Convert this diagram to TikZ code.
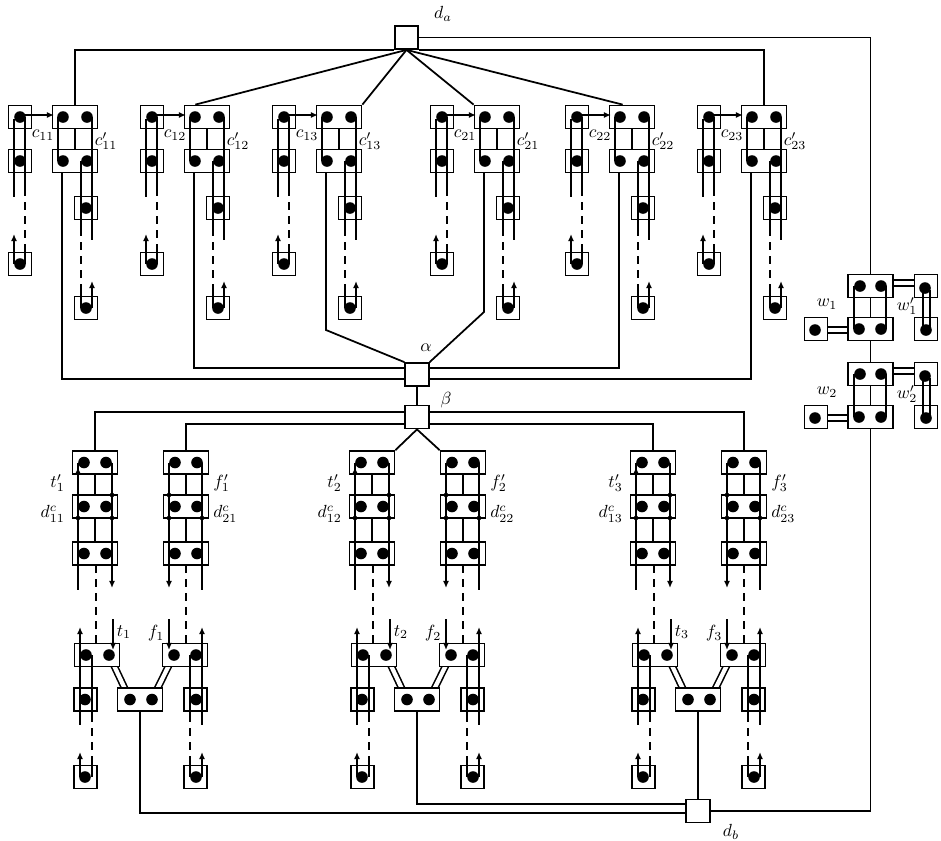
\documentclass[tikz,border=0pt]{standalone}
\usetikzlibrary{arrows.meta,calc}
\tikzset{
  wire/.style={line width=1pt},
  dashwire/.style={line width=1pt, dash pattern=on 4.5pt off 3.5pt},
  cell/.style={draw, line width=1pt, fill=white, inner sep=0pt, minimum height=0.46cm},
  sbox/.style={cell, minimum width=0.46cm},
  dbox/.style={cell, minimum width=0.9cm},
  hub/.style={draw, line width=1pt, fill=white, inner sep=0pt, minimum width=0.47cm, minimum height=0.46cm},
  upar/.style={wire, -{Latex[length=4pt,width=3.4pt]}},
  chan/.style={line width=0.9pt, double, double distance=2.4pt},
  lbl/.style={inner sep=0pt},
}
% filled terminal and small junction point
\newcommand\blob[2]{\fill (#1,#2) circle (3.3pt);}
\newcommand\knot[2]{\fill (#1,#2) circle (1.3pt);}

% clause gadget: name, left x, labels
\newcommand\cgad[4]{%
  \begin{scope}[shift={(#2,0)}]
    \node[sbox] (#1a) at (12,117) {};
    \node[dbox] (#1b) at (67,117) {};
    \node[sbox] (#1c) at (12,161) {};
    \node[dbox] (#1d) at (67,161) {};
    \node[sbox] (#1e) at (78,208) {};
    \node[sbox] (#1f) at (12,264) {};
    \node[sbox] (#1g) at (78,308) {};
    \coordinate (#1L) at (54,172.5);
    \draw[upar] (12,115) -- (46,115);
    \draw[wire] (6,119) -- (6,197);
    \draw[upar] (6,264) -- (6,234);
    \draw[wire] (17,117) -- (17,188);
    \draw[dashwire] (17,188) -- (17,246);
    \draw[wire] (17,246) -- (17,264);
    \draw[wire] (50,117) -- (50,161);
    \draw[wire] (67,128.5) -- (67,149.5);
    \draw[wire] (84,117) -- (84,240);
    \draw[wire] (73,161) -- (73,228);
    \draw[dashwire] (73,228) -- (73,290);
    \draw[wire] (73,290) -- (73,308);
    \draw[upar] (84,308) -- (84,281);
    \blob{12}{117}\blob{55}{117}\blob{79}{117}
    \blob{12}{161}\blob{55}{161}\blob{79}{161}
    \blob{78}{208}\blob{12}{264}\blob{78}{308}
    \node[lbl] at (35,135) {$#3$};
    \node[lbl] at (98,141) {$#4$};
  \end{scope}}

% variable gadget: name, left x, index
\newcommand\vgad[3]{%
  \begin{scope}[shift={(#2,0)}]
    \draw[chan] (37,655) -- (58,699.5);
    \draw[chan] (102,655) -- (80,699.5);
    \foreach \rw/\yy in {1/462.5,2/506.5,3/553.5}{
      \node[dbox] (#1t\rw) at (23,\yy) {};
      \node[dbox] (#1f\rw) at (114,\yy) {};
    }
    \node[dbox] (#1lt) at (25,655) {};
    \node[dbox] (#1lf) at (113,655) {};
    \node[dbox] (#1cc) at (68,699.5) {};
    \node[sbox] (#1sl) at (13.5,699.5) {};
    \node[sbox] (#1sr) at (123.5,699.5) {};
    \node[sbox] (#1bl) at (13.5,777) {};
    \node[sbox] (#1br) at (123.5,777) {};
    % true side
    \draw[wire] (6,462.5) -- (6,590);
    \draw[upar] (6,495) -- (6,467);
    \draw[wire] (23,474) -- (23,495);
    \draw[wire] (23,518) -- (23,542);
    \draw[wire] (40,462.5) -- (40,565);
    \draw[upar] (40,565) -- (40,588);
    \draw[dashwire] (24,565) -- (24,643.5);
    \draw[upar] (8,655) -- (8,627);
    \draw[upar] (41,619) -- (41,650);
    \draw[wire] (8,655) -- (8,725);
    \draw[wire] (20,655) -- (20,714);
    \draw[dashwire] (20,714) -- (20,760);
    \draw[wire] (20,760) -- (20,777);
    \draw[upar] (8,777) -- (8,752);
    % false side
    \draw[wire] (97,462.5) -- (97,565);
    \draw[upar] (97,565) -- (97,588);
    \draw[wire] (114,474) -- (114,495);
    \draw[wire] (114,518) -- (114,542);
    \draw[wire] (130,462.5) -- (130,590);
    \draw[dashwire] (114,565) -- (114,643.5);
    \draw[upar] (97,619) -- (97,650);
    \draw[upar] (130,655) -- (130,627);
    \draw[wire] (118,655) -- (118,714);
    \draw[dashwire] (118,714) -- (118,760);
    \draw[wire] (118,760) -- (118,777);
    \draw[wire] (130,655) -- (130,725);
    \draw[upar] (130,777) -- (130,752);
    \foreach \yy in {462.5,506.5,553.5}{\blob{12}{\yy}\blob{34}{\yy}\blob{103}{\yy}\blob{125}{\yy}}
    \blob{14}{655}\blob{37}{655}\blob{102}{655}\blob{124}{655}
    \blob{58}{699.5}\blob{80}{699.5}\blob{13}{699.5}\blob{124}{699.5}
    \blob{13}{777}\blob{124}{777}
    \knot{40}{495}\knot{6}{518}\knot{40}{518}\knot{97}{495}\knot{97}{518}\knot{130}{518}
    \node[lbl, anchor=east] at (-7,483) {$t'_{#3}$};
    \node[lbl, anchor=east] at (-7,514) {$d^c_{1#3}$};
    \node[lbl, anchor=west] at (141,483) {$f'_{#3}$};
    \node[lbl, anchor=west] at (141,514) {$d^c_{2#3}$};
    \node[lbl] at (52,632) {$t_{#3}$};
    \node[lbl] at (84,633) {$f_{#3}$};
  \end{scope}}

% w gadget: name, vertical offset, index
\newcommand\wgad[3]{%
  \begin{scope}[shift={(0,#2)}]
    \draw[chan] (882,283) -- (922,283);
    \draw[chan] (818,330) -- (859,330);
    \node[dbox] (#1t) at (870.5,286) {};
    \node[sbox] (#1r) at (926,286) {};
    \node[dbox] (#1b) at (870.5,329) {};
    \node[sbox] (#1l) at (816,329) {};
    \node[sbox] (#1q) at (926,329) {};
    \draw[wire] (854,286) -- (854,329);
    \draw[wire] (870.5,297.5) -- (870.5,317.5);
    \draw[wire] (886,286) -- (886,329);
    \draw[wire] (923,290) -- (923,330);
    \draw[wire] (930,290) -- (930,330);
    \blob{860}{286}\blob{881}{286}\blob{925}{288}
    \blob{859}{329}\blob{881}{329}\blob{815}{330}\blob{926}{330}
    \node[lbl] at (827,304) {$w_{#3}$};
    \node[lbl] at (907,306) {$w'_{#3}$};
  \end{scope}}

\begin{document}
\begin{tikzpicture}[x=0.02cm,y=-0.02cm]
\useasboundingbox (0,0) rectangle (941,840);

\cgad{g11}{8}{c_{11}}{c'_{11}}
\cgad{g12}{140}{c_{12}}{c'_{12}}
\cgad{g13}{272}{c_{13}}{c'_{13}}
\cgad{g21}{430}{c_{21}}{c'_{21}}
\cgad{g22}{565}{c_{22}}{c'_{22}}
\cgad{g23}{697}{c_{23}}{c'_{23}}

\vgad{v1}{72}{1}
\vgad{v2}{349}{2}
\vgad{v3}{630}{3}

\wgad{w1}{0}{1}
\wgad{w2}{88}{2}

\node[hub] (da) at (406.5,37.5) {};
\node[hub] (alpha) at (417,374.5) {};
\node[hub] (beta) at (417,417) {};
\node[hub] (db) at (698,811) {};
\node[lbl] at (443,14) {$d_a$};
\node[lbl] at (426,348) {$\alpha$};
\node[lbl] at (446,400) {$\beta$};
\node[lbl] at (731,832) {$d_b$};

% d_a to the clause gadgets and to the w chain
\draw[wire] (da.east) -| (w1t.north);
\draw[wire] (da.south west) -| (g11b.north);
\draw[wire] (da.south east) -| (g23b.north);
\draw[wire] (da.south) -- ($(g12b.north west)!0.25!(g12b.north east)$);
\draw[wire] (da.south) -- (g13b.north east);
\draw[wire] (da.south) -- (g21b.north west);
\draw[wire] (da.south) -- ($(g22b.north west)!0.3!(g22b.north east)$);

% clause gadgets to alpha
\coordinate (k13) at (326,330);
\coordinate (k21) at (484,312);
\draw[wire] (g11L) |- (alpha.200);
\draw[wire] (g12L) |- (alpha.152);
\draw[wire] (g13L) -- (k13) -- (alpha.north west);
\draw[wire] (g21L) -- (k21) -- (alpha.north east);
\draw[wire] (g22L) |- (alpha.28);
\draw[wire] (g23L) |- (alpha.-20);

% beta to the variable gadgets
\draw[wire] (alpha.south) -- (beta.north);
\draw[wire] (beta.157) -| (v1t1.north);
\draw[wire] (beta.210) -| (v1f1.north);
\draw[wire] (beta.23) -| (v3f1.north);
\draw[wire] (beta.330) -| (v3t1.north);
\draw[wire] (beta.south) -- (v2t1.north east);
\draw[wire] (beta.south) -- (v2f1.north west);

% variable gadgets to d_b, and the w chain
\draw[wire] (v1cc.south) |- (db.190);
\draw[wire] (v2cc.south) |- (db.150);
\draw[wire] (v3cc.south) -- (db.north);
\draw[wire] (db.east) -| (w2b.south);
\draw[wire] (w1b.south) -- (w2t.north);
\end{tikzpicture}
\end{document}
